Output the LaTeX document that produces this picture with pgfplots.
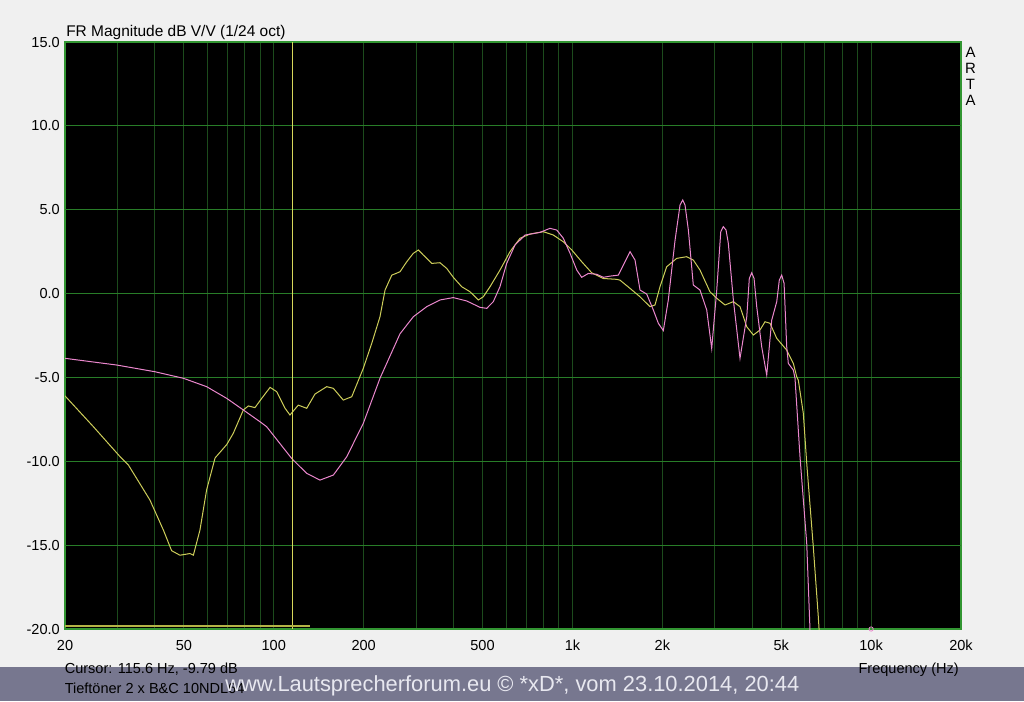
\documentclass[border=0pt]{standalone}
\usepackage{pgfplots}
\pgfplotsset{compat=1.18}
\usepackage{fontspec}
\setmainfont{Liberation Sans}
\definecolor{bg}{RGB}{240,240,240}
\definecolor{band}{RGB}{119,119,143}
\definecolor{ycurve}{RGB}{205,205,90}
\definecolor{pcurve}{RGB}{235,135,205}
\definecolor{gridv}{RGB}{28,75,28}
\definecolor{gridh}{RGB}{40,125,40}
\definecolor{framec}{RGB}{50,150,50}
\definecolor{cursorc}{RGB}{215,215,90}
\definecolor{barc}{RGB}{180,180,70}
\definecolor{wm}{RGB}{232,232,240}
\begin{document}
\begin{tikzpicture}
\begin{scope}[x=0.75pt,y=-0.75pt]
\fill[bg] (0,0) rectangle (1024,701);
\fill[band] (0,667) rectangle (1024,701);
\end{scope}
\begin{axis}[
  at={(48.75pt,-471.75pt)}, anchor=south west,
  scale only axis, width=672pt, height=440.25pt,
  xmode=log, xmin=20, xmax=20000, ymin=-20, ymax=15,
  axis background/.style={fill=black},
  axis line style={framec, line width=1pt},
  xtick={20,30,40,50,60,70,80,90,100,200,300,400,500,600,700,800,900,1000,2000,3000,4000,5000,6000,7000,8000,9000,10000,20000},
  xticklabels={20,{},{},50,{},{},{},{},100,200,{},{},500,{},{},{},{},1k,2k,{},{},5k,{},{},{},{},10k,20k},
  ytick={-20,-15,-10,-5,0,5,10,15},
  major tick length=0pt, minor tick num=0,
  xmajorgrids,
  major x grid style={gridv, line width=0.75pt},
  /pgf/number format/assume math mode=true,
  yticklabel style={/pgf/number format/.cd, fixed, fixed zerofill, precision=1, /tikz/.cd, anchor=east, inner sep=0pt, xshift=-3.75pt, font=\fontsize{10.9}{13}\selectfont},
  xticklabel style={anchor=north, inner sep=0pt, yshift=-8.25pt, font=\fontsize{10.9}{13}\selectfont},
]
\pgfplotsinvokeforeach{-15,-10,-5,0,5,10}{
  \draw[gridh, line width=0.75pt] (axis cs:20,#1) -- (axis cs:20000,#1);
}
\addplot[ycurve, line width=0.75pt] coordinates {
(20,-6.1) (24.9,-7.94) (30.6,-9.73) (32.6,-10.22) (38.5,-12.31) (42.7,-14.1) (45.5,-15.33) (48.5,-15.6) (52.4,-15.5) (53.8,-15.6) (56.6,-14.1) (59.6,-11.7) (63.6,-9.8) (69.6,-9.0) (73.2,-8.33) (79.1,-6.94) (82.2,-6.7) (86.5,-6.8) (91.1,-6.25) (97.2,-5.59) (102.3,-5.85) (109.1,-6.84) (113.3,-7.24) (120.8,-6.65) (128.9,-6.84) (137.4,-5.99) (150.4,-5.55) (158.3,-5.65) (170.9,-6.35) (182.4,-6.15) (199.4,-4.46) (212.8,-2.97) (226.8,-1.38) (235.8,0.21) (248.4,1.1) (264.6,1.3) (278.8,1.9) (293.2,2.4) (304.8,2.6) (316.7,2.3) (338.0,1.8) (360.2,1.84) (379.4,1.5) (399.2,0.97) (425.8,0.41) (454.0,0.11) (484.0,-0.38) (503.0,-0.19) (529.8,0.41) (572.0,1.4) (618.0,2.5) (667.6,3.3) (721.2,3.55) (799,3.69) (863,3.49) (932,3.09) (995,2.6) (1074,1.9) (1160,1.24) (1269,0.9) (1407,0.85) (1443,0.8) (1559,0.31) (1684,-0.19) (1818,-0.78) (1890,-0.68) (1964,0.41) (2068,1.6) (2234,2.1) (2413,2.2) (2539,2.0) (2674,1.4) (2887,0.11) (3042,-0.28) (3243,-0.68) (3458,-0.48) (3640,-0.78) (3835,-1.98) (4034,-2.47) (4246,-2.17) (4413,-1.68) (4587,-1.77) (4831,-2.67) (5217,-3.37) (5490,-4.16) (5636,-4.96) (5705,-5.16) (5930,-7.14) (6088,-10.12) (6404,-15.1) (6656,-19.27) (6750,-21)
};
\addplot[pcurve, line width=0.75pt] coordinates {
(20,-3.86) (29.8,-4.26) (40.0,-4.66) (49.8,-5.05) (59.6,-5.55) (69.6,-6.25) (79.1,-6.94) (89.9,-7.64) (94.7,-7.94) (114.8,-9.83) (128.9,-10.72) (142.8,-11.12) (158.3,-10.82) (175.5,-9.73) (199.4,-7.74) (226.8,-5.05) (264.6,-2.4) (293.2,-1.38) (325.2,-0.78) (360.2,-0.38) (399.2,-0.24) (442.6,-0.44) (490.4,-0.82) (516.4,-0.88) (543.4,-0.48) (572.0,0.41) (602.4,1.8) (642.4,2.9) (694,3.49) (779,3.65) (841,3.89) (886,3.79) (932,3.3) (982,2.4) (1034,1.4) (1074,0.97) (1130,1.2) (1206,1.15) (1269,0.97) (1336,1.04) (1424,1.1) (1500,1.9) (1559,2.5) (1620,2.0) (1684,0.21) (1773,-0.03) (1866,-0.98) (1939,-1.77) (2015,-2.21) (2094,-0.38) (2206,3.19) (2292,5.28) (2340,5.58) (2382,5.28) (2444,3.79) (2539,0.51) (2674,0.21) (2816,-0.98) (2926,-3.27) (3042,0.21) (3138,3.69) (3200,3.99) (3268,3.79) (3326,3.0) (3458,-0.38) (3640,-3.86) (3835,-1.38) (3910,0.9) (3984,1.24) (4056,0.9) (4140,-0.78) (4302,-3.17) (4472,-4.86) (4648,-1.58) (4831,-0.48) (4928,0.81) (5020,1.1) (5112,0.61) (5217,-3.17) (5282,-4.16) (5490,-4.56) (5562,-5.05) (5780,-9.73) (6088,-14.9) (6244,-20.07) (6300,-21)
};
\addplot[cursorc, line width=0.75pt] coordinates {(115.6,-20) (115.6,15)};
\addplot[barc, line width=1.5pt] coordinates {(20,-19.8) (132,-19.8)};
\addplot[pcurve, only marks, mark=o, mark size=1.6pt, mark options={line width=0.6pt}] coordinates {(10000,-20)};
\end{axis}
\begin{scope}[x=0.75pt,y=-0.75pt]
\node[anchor=base west, inner sep=0pt, font=\fontsize{11.6}{14}\selectfont] at (66,36) {FR Magnitude dB V/V (1/24 oct)};
\foreach \l/\yy in {A/57,R/73,T/89,A/105}
  \node[anchor=base, inner sep=0pt, font=\fontsize{11.2}{13}\selectfont] at (970.5,\yy) {\l};
\node[anchor=base east, inner sep=0pt, font=\fontsize{10.9}{13}\selectfont] at (959,673) {Frequency (Hz)};
\node[anchor=base west, inner sep=0pt, font=\fontsize{10.9}{13}\selectfont] at (64.5,673) {Cursor: 115.6 Hz, -9.79 dB};
\node[anchor=base west, inner sep=0pt, font=\fontsize{10.9}{13}\selectfont] at (64.5,693.3) {Tieftöner 2 x B\&C 10NDL64};
\node[anchor=base west, inner sep=0pt, text=wm, font=\fontsize{16.4}{19}\selectfont] at (225,691.5) {www.Lautsprecherforum.eu © *xD*, vom 23.10.2014, 20:44};
\end{scope}
\end{tikzpicture}
\end{document}
